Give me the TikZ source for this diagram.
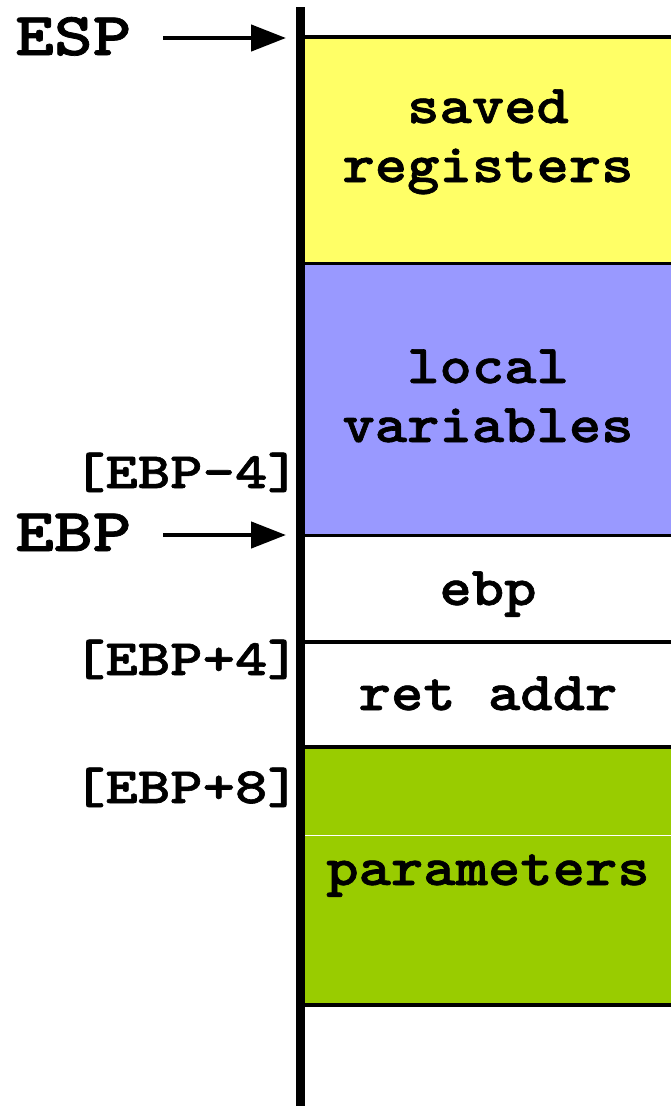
\documentclass[tikz,border=0pt]{standalone}
\usepackage{fontspec}
\newfontfamily\courbold{lmmonolt10-bold.otf}[FakeStretch=1.12,FakeBold=1.2]
\newfontfamily\courlab{lmmonolt10-bold.otf}[FakeStretch=1.21,FakeBold=1.2]
\usetikzlibrary{arrows.meta}
\definecolor{yel}{HTML}{FFFF66}
\definecolor{blu}{HTML}{9999FF}
\definecolor{grn}{HTML}{99CC00}
\begin{document}
\begin{tikzpicture}[x=1pt,y=-1pt,
  boxtext/.style={font=\courbold\fontsize{55}{59}\selectfont, align=center, inner sep=0pt, anchor=base},
  reglabel/.style={font=\courlab\fontsize{61}{61}\selectfont, inner sep=0pt, anchor=base west},
  offlabel/.style={font=\courlab\fontsize{51}{51}\selectfont, inner sep=0pt, anchor=base east},
  sepline/.style={line width=3.8pt},
  ptr/.style={line width=4.5pt, -{Triangle[length=35pt,width=26pt]}}
]
\useasboundingbox (0,0) rectangle (671,1106);
% stack cells
\fill[yel] (300,37) rectangle (671,263.5);
\fill[blu] (300,263.5) rectangle (671,535.5);
\fill[grn] (300,747) rectangle (671,1005);
\draw[white, line width=1pt] (300,835) -- (671,835);
% separators
\foreach \yy in {37,263.5,535.5,642,747,1005}
  \draw[sepline] (300,\yy) -- (671,\yy);
% stack axis
\draw[line width=9pt] (300.5,7) -- (300.5,1106);
% texts
\node[boxtext] (saved) at (488,182) {saved\\registers};
\node[boxtext] (local) at (488,442) {local\\variables};
\node[boxtext] (ebp) at (488,605) {ebp};
\node[boxtext] (ret) at (488,710) {ret addr};
\node[boxtext] (params) at (488,885) {parameters};
% labels
\node[reglabel] (esp) at (15,55) {ESP};
\node[reglabel] (ebpreg) at (15,551) {EBP};
\node[offlabel] (m4) at (300,488) {[EBP-4]};
\node[offlabel] (p4) at (300,675) {[EBP+4]};
\node[offlabel] (p8) at (300,803) {[EBP+8]};
% arrows
\coordinate (espfrom) at (163,38);
\coordinate (espto) at (286,38);
\coordinate (ebpfrom) at (163,535);
\coordinate (ebpto) at (286,535);
\draw[ptr] (espfrom) -- (espto);
\draw[ptr] (ebpfrom) -- (ebpto);
\end{tikzpicture}
\end{document}
